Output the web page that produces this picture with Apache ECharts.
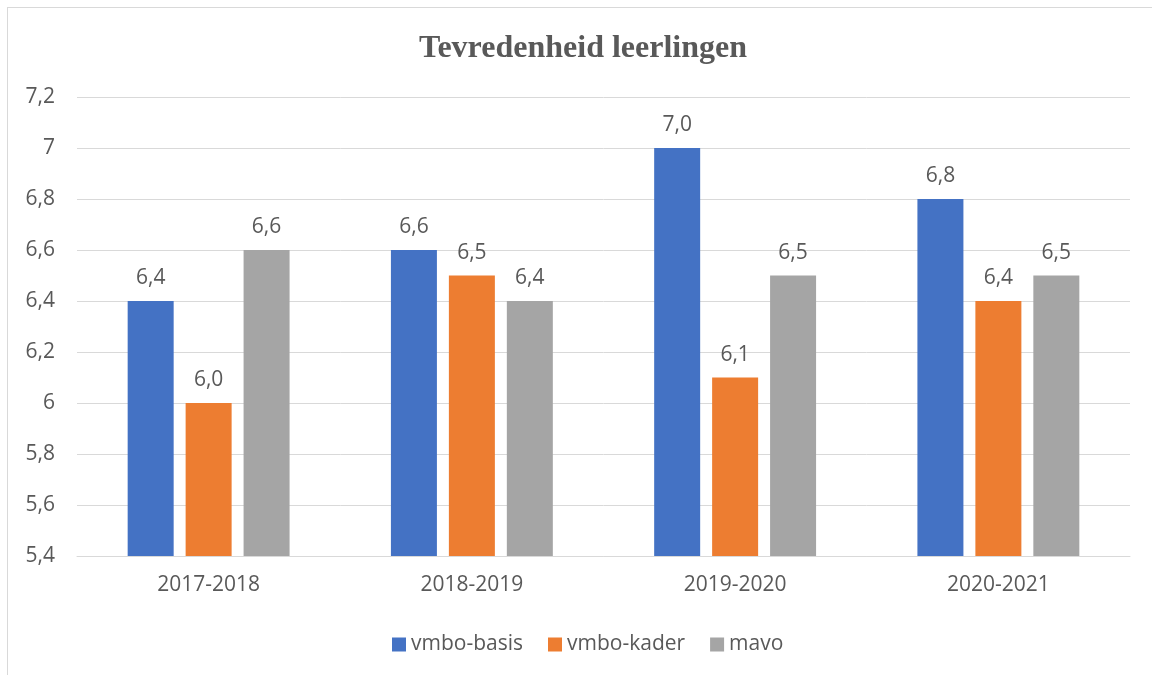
<!DOCTYPE html>
<html>
<head>
<meta charset="utf-8">
<script src="https://cdn.jsdelivr.net/npm/echarts@6/dist/echarts.min.js"></script>
<style>
  html, body { margin: 0; padding: 0; background: #fff; overflow: hidden; }
  #frame {
    position: absolute; left: 7px; top: 7px; width: 1200px; height: 720px;
    border: 1px solid #d9d9d9; box-sizing: border-box;
  }
  #chart { position: absolute; left: 0; top: 0; width: 1152px; height: 675px; }
</style>
</head>
<body>
<div id="frame"></div>
<div id="chart"></div>
<script>
// Chart data
const years = ['2017-2018', '2018-2019', '2019-2020', '2020-2021'];
const vmboBasis = [6.4, 6.6, 7.0, 6.8];
const vmboKader = [6.0, 6.5, 6.1, 6.4];
const mavo = [6.6, 6.4, 6.5, 6.5];
const seriesNames = ['vmbo-basis', 'vmbo-kader', 'mavo'];
const seriesColors = ['#4472C4', '#ED7D31', '#A5A5A5'];

const textColor = '#595959';
const font = '"Open Sans", sans-serif';

function makeSeries(name, values, color) {
    return {
        name: name,
        type: 'bar',
        data: values,
        barWidth: 46,
        barGap: '26%',
        itemStyle: { color: color },
        label: {
            show: true,
            position: 'top',
            distance: 12,
            color: textColor,
            fontFamily: font,
            fontSize: 21,
            formatter: p => p.value.toFixed(1).replace('.', ',')
        }
    };
}

function initChart() {
    const chartDom = document.getElementById('chart');
    const chart = echarts.init(chartDom);
    const option = {
        animation: false,
        title: {
            text: 'Tevredenheid leerlingen',
            left: 578,
            textAlign: 'center',
            top: 28,
            textStyle: {
                fontFamily: '"Liberation Serif", "Times New Roman", serif',
                fontWeight: 'bold',
                fontSize: 32,
                color: textColor
            }
        },
        legend: {
            data: seriesNames,
            left: 387,
            top: 629,
            itemWidth: 14,
            itemHeight: 14,
            itemGap: 25,
            icon: 'rect',
            textStyle: { color: textColor, fontFamily: font, fontSize: 21 }
        },
        grid: { left: 77, right: 22, top: 97, bottom: 119 },
        xAxis: {
            type: 'category',
            data: years,
            axisLine: { lineStyle: { color: '#d9d9d9' } },
            axisTick: { show: false },
            axisLabel: { color: textColor, fontFamily: font, fontSize: 21, margin: 19 }
        },
        yAxis: {
            type: 'value',
            min: 5.4,
            max: 7.2,
            interval: 0.2,
            axisLine: { show: false },
            axisTick: { show: false },
            axisLabel: {
                color: textColor,
                fontFamily: font,
                fontSize: 21,
                margin: 22,
                formatter: v => String(parseFloat(v.toFixed(1))).replace('.', ',')
            },
            splitLine: { lineStyle: { color: '#d9d9d9' } }
        },
        series: [
            makeSeries(seriesNames[0], vmboBasis, seriesColors[0]),
            makeSeries(seriesNames[1], vmboKader, seriesColors[1]),
            makeSeries(seriesNames[2], mavo, seriesColors[2])
        ]
    };
    chart.setOption(option);
}

initChart();
</script>
</body>
</html>
